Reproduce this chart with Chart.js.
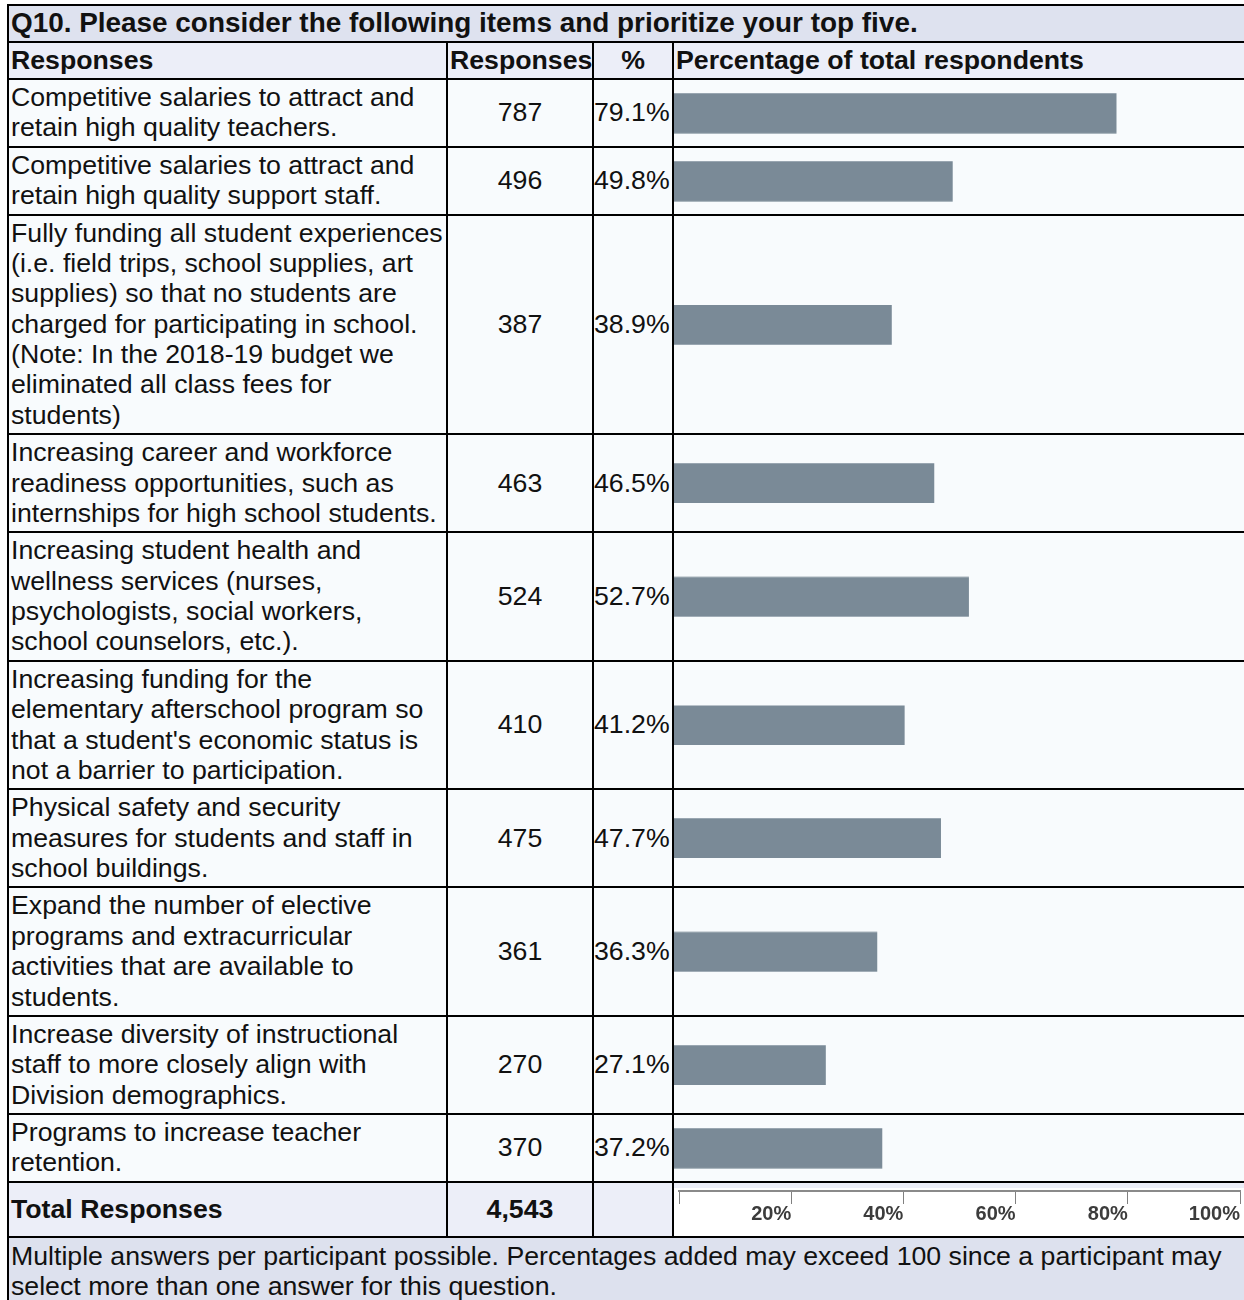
<!DOCTYPE html>
<html>
<head>
<meta charset="utf-8">
<script src="https://cdn.jsdelivr.net/npm/chart.js@4.4.0/dist/chart.umd.min.js"></script>
<style>
  body { margin: 0; background: #ffffff; font-family: "Liberation Sans", Arial, sans-serif; }
  table {
    position: absolute; left: 7px; top: 4px;
    border-collapse: collapse; table-layout: fixed; width: 1242px;
    font-size: 26.7px; line-height: 30.38px; color: #111;
  }
  td { border: 2px solid #000; padding: 2px 2px 3px 2px; vertical-align: middle; background: #f8fbfd; }
  .title td { background: #dee2ef; font-weight: bold; font-size: 27.9px; line-height: 30.5px; border-bottom: 1px solid #222; padding: 2px 2px 2px 2px; }
  .head td { background: #eceef8; font-weight: bold; line-height: 30.5px; padding: 2px 2px 3px 2px; }
  .lbl { white-space: pre-line; }
  .num { text-align: center; }
  .pct { text-align: left; padding-left: 0; padding-right: 0; }
  .barcell { position: relative; padding: 0; }
  .barcell div { position: absolute; left: 0; top: 0; right: 0; bottom: 0; }
  .total td { background: #eceef8; font-weight: bold; height: 53px; padding-top: 0; padding-bottom: 0; }
  .total .axiscell { padding: 0; position: relative; }
  .axisbox { position: absolute; left: 0; top: 5px; right: 0; bottom: 0; background: #fff; }
  .foot td { background: #dde1ee; white-space: pre-line; padding: 3px 2px 2px 2px; border-bottom: none; }
</style>
</head>
<body>
<table id="tbl">
  <colgroup>
    <col style="width:439px"><col style="width:146px"><col style="width:80px"><col>
  </colgroup>
  <tbody id="tb"></tbody>
</table>
<script>
// categorías (con los saltos de línea del original)
const categories = [
  'Competitive salaries to attract and\nretain high quality teachers.',
  'Competitive salaries to attract and\nretain high quality support staff.',
  'Fully funding all student experiences\n(i.e. field trips, school supplies, art\nsupplies) so that no students are\ncharged for participating in school.\n(Note: In the 2018-19 budget we\neliminated all class fees for\nstudents)',
  'Increasing career and workforce\nreadiness opportunities, such as\ninternships for high school students.',
  'Increasing student health and\nwellness services (nurses,\npsychologists, social workers,\nschool counselors, etc.).',
  'Increasing funding for the\nelementary afterschool program so\nthat a student\'s economic status is\nnot a barrier to participation.',
  'Physical safety and security\nmeasures for students and staff in\nschool buildings.',
  'Expand the number of elective\nprograms and extracurricular\nactivities that are available to\nstudents.',
  'Increase diversity of instructional\nstaff to more closely align with\nDivision demographics.',
  'Programs to increase teacher\nretention.'
];
// número de respuestas
const responses = [787, 496, 387, 463, 524, 410, 475, 361, 270, 370];
// porcentaje del total de participantes
const percents = [79.1, 49.8, 38.9, 46.5, 52.7, 41.2, 47.7, 36.3, 27.1, 37.2];
const totalResponses = 4543;
// marcas del eje
const tickValues = [0, 20, 40, 60, 80, 100];

const titleText = 'Q10. Please consider the following items and prioritize your top five.';
const footText = 'Multiple answers per participant possible. Percentages added may exceed 100 since a participant may\nselect more than one answer for this question.';
const barColor = '#7a8a97';

document.addEventListener('DOMContentLoaded', function() {
    const tb = document.getElementById('tb');
    let html = '';
    html += '<tr class="title"><td colspan="4">' + titleText + '</td></tr>';
    html += '<tr class="head"><td>Responses</td><td class="num">Responses</td><td class="num">%</td><td>Percentage of total respondents</td></tr>';
    categories.forEach((c, i) => {
        html += '<tr><td class="lbl">' + c + '</td><td class="num">' + responses[i] + '</td>' +
            '<td class="pct">' + percents[i].toFixed(1) + '%</td>' +
            '<td class="barcell"><div><canvas id="bar' + i + '"></canvas></div></td></tr>';
    });
    html += '<tr class="total"><td>Total Responses</td><td class="num">' + totalResponses.toLocaleString('en-US') + '</td><td></td>' +
        '<td class="axiscell"><div class="axisbox"><canvas id="axis"></canvas></div></td></tr>';
    html += '<tr class="foot"><td colspan="4">' + footText + '</td></tr>';
    tb.innerHTML = html;

    // una barra por fila
    percents.forEach((p, i) => {
        new Chart(document.getElementById('bar' + i), {
            type: 'bar',
            data: {
                labels: [''],
                datasets: [{ data: [p], backgroundColor: barColor, barThickness: 39 }]
            },
            options: {
                indexAxis: 'y',
                responsive: true,
                maintainAspectRatio: false,
                animation: false,
                layout: { padding: { left: 0, right: 14, top: 0, bottom: 0 } },
                plugins: { legend: { display: false }, tooltip: { enabled: false } },
                scales: {
                    x: { display: false, min: 0, max: 100 },
                    y: { display: false }
                }
            }
        });
    });

    // eje de porcentajes en la fila del total
    new Chart(document.getElementById('axis'), {
        type: 'bar',
        data: { labels: [''], datasets: [{ data: [0], backgroundColor: barColor }] },
        options: {
            indexAxis: 'y',
            responsive: true,
            maintainAspectRatio: false,
            animation: false,
            layout: { padding: { left: 5, right: 7, top: 0, bottom: 0 } },
            plugins: { legend: { display: false }, tooltip: { enabled: false } },
            scales: {
                x: {
                    position: 'bottom',
                    min: 0,
                    max: 100,
                    afterBuildTicks: (axis) => { axis.ticks = tickValues.map(v => ({ value: v })); },
                    // el eje ocupa casi todo el lienzo
                    afterFit: (axis) => { axis.height = axis.chart.height - 3; },
                    grid: { drawOnChartArea: false, drawTicks: true, tickLength: 13, color: '#808080', lineWidth: 1 },
                    border: { display: true, color: '#8a8a8a', width: 2 },
                    ticks: {
                        align: 'end',
                        padding: -2,
                        color: '#3c3c3c',
                        font: { family: '"Liberation Sans", Arial, sans-serif', weight: 'bold', size: 20 },
                        callback: (v) => v === 0 ? '' : v + '%'
                    }
                },
                y: { display: false }
            }
        }
    });
});
</script>
</body>
</html>
